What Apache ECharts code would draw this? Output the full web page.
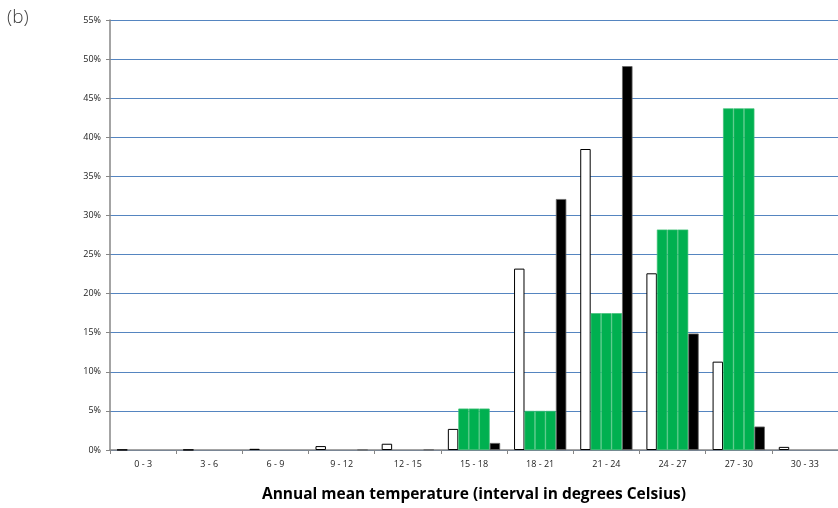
<!DOCTYPE html>
<html>
<head>
<meta charset="utf-8">
<script src="https://cdn.jsdelivr.net/npm/echarts@6/dist/echarts.min.js"></script>
<style>
html,body{margin:0;padding:0;background:#fff;}
#chart{width:838px;height:508px;position:relative;}
</style>
</head>
<body>
<div id="chart"></div>
<script>
const categories = ["0 - 3","3 - 6","6 - 9","9 - 12","12 - 15","15 - 18","18 - 21","21 - 24","24 - 27","27 - 30","30 - 33"];
const whiteValues = [0.03, 0.03, 0.15, 0.5, 0.8, 2.7, 23.2, 38.5, 22.6, 11.3, 0.4];
const green1Values = [0, 0, 0, 0, 0, 5.3, 5.0, 17.5, 28.2, 43.7, 0];
const green2Values = [0, 0, 0, 0, 0, 5.3, 5.0, 17.5, 28.2, 43.7, 0];
const green3Values = [0, 0, 0, 0, 0, 5.3, 5.0, 17.5, 28.2, 43.7, 0];
const blackValues = [0, 0, 0, 0.03, 0.05, 0.9, 32.1, 49.1, 14.9, 3.0, 0];
const yTicks = [0, 5, 10, 15, 20, 25, 30, 35, 40, 45, 50, 55];
const axisTitle = "Annual mean temperature (interval in degrees Celsius)";
const panelLabel = "(b)";

const chart = echarts.init(document.getElementById('chart'), null, {renderer: 'canvas'});
const greenStyle = {color: '#00b050', borderColor: '#3fc277', borderWidth: 0.7};
const zeroHide = v => v === 0 ? '-' : v;
const option = {
  animation: false,
  backgroundColor: '#fff',
  graphic: [{type: 'text', left: 7, top: 8, style: {text: panelLabel, font: '300 19px "Open Sans", sans-serif', fill: '#404040'}}],
  grid: {left: 110, right: 0, top: 20, bottom: 57, containLabel: false},
  xAxis: {
    type: 'category',
    data: categories,
    name: axisTitle,
    nameLocation: 'middle',
    nameGap: 37,
    nameTextStyle: {fontFamily: '"Open Sans", sans-serif', fontWeight: 'bold', fontSize: 15.5, color: '#000'},
    axisLine: {lineStyle: {color: '#868686', width: 1.5}},
    axisTick: {show: true, alignWithLabel: false, length: 4, lineStyle: {color: '#868686'}},
    axisLabel: {interval: 0, fontSize: 9, color: '#222', margin: 10, fontFamily: '"Open Sans", sans-serif'}
  },
  yAxis: {
    type: 'value',
    min: yTicks[0],
    max: yTicks[yTicks.length - 1],
    interval: 5,
    axisLine: {show: true, lineStyle: {color: '#868686', width: 1.5}},
    axisTick: {show: true, length: 4, inside: false, lineStyle: {color: '#868686'}},
    axisLabel: {formatter: '{value}%', fontSize: 9, color: '#222', margin: 9, fontFamily: '"Open Sans", sans-serif'},
    splitLine: {show: true, lineStyle: {color: '#5585c0', width: 1}}
  },
  series: [
    {name: 'A', type: 'bar', data: whiteValues, barGap: '0%', barCategoryGap: '21%',
     itemStyle: {color: '#ffffff', borderColor: '#000', borderWidth: 1}},
    {name: 'B1', type: 'bar', data: green1Values.map(zeroHide), itemStyle: greenStyle},
    {name: 'B2', type: 'bar', data: green2Values.map(zeroHide), itemStyle: greenStyle},
    {name: 'B3', type: 'bar', data: green3Values.map(zeroHide), itemStyle: greenStyle},
    {name: 'C', type: 'bar', data: blackValues.map(zeroHide),
     itemStyle: {color: '#000', borderColor: '#666', borderWidth: 0.8}}
  ]
};
chart.setOption(option);
</script>
</body>
</html>
